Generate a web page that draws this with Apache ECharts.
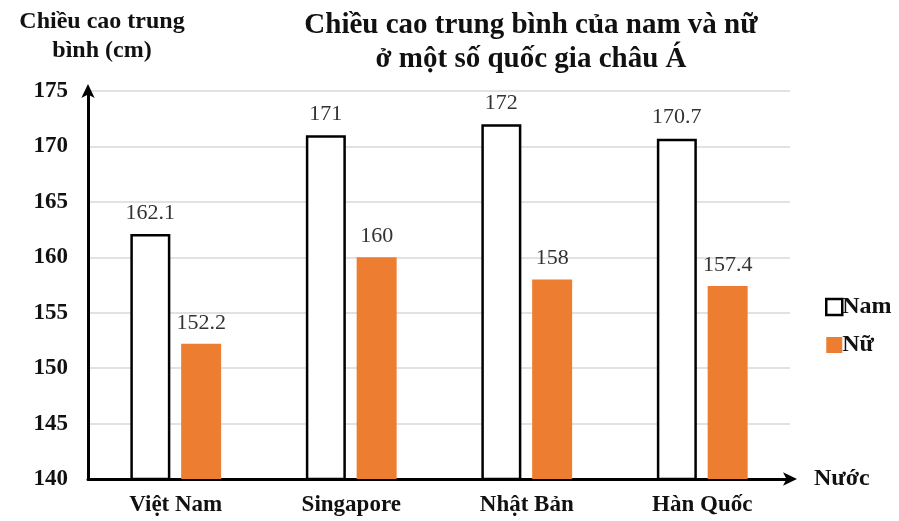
<!DOCTYPE html>
<html lang="vi">
<head>
<meta charset="UTF-8">
<title>Chiều cao trung bình</title>
<script src="https://cdn.jsdelivr.net/npm/echarts@6/dist/echarts.min.js"></script>
<style>
  html, body { margin: 0; padding: 0; background: #fff; }
  #main { width: 899px; height: 521px; }
</style>
</head>
<body>
<div id="main"></div>
<script>
  var countries = ['Việt Nam', 'Singapore', 'Nhật Bản', 'Hàn Quốc'];
  var namData = [162.1, 171, 172, 170.7];
  var nuData = [152.2, 160, 158, 157.4];
  var yTicks = [140, 145, 150, 155, 160, 165, 170, 175];

  var serif = '"Liberation Serif", "DejaVu Serif", serif';
  var myChart = echarts.init(document.getElementById('main'));

  var option = {
    backgroundColor: '#fff',
    animation: false,
    title: {
      text: 'Chiều cao trung bình của nam và nữ\nở một số quốc gia châu Á',
      left: 526,
      textAlign: 'center',
      top: 4,
      textStyle: {
        fontFamily: serif,
        fontWeight: 'bold',
        fontSize: 29,
        lineHeight: 34,
        color: '#111'
      }
    },
    legend: {
      orient: 'vertical',
      left: 820,
      top: 290,
      itemGap: 14,
      itemWidth: 16,
      itemHeight: 16,
      textStyle: { fontFamily: serif, fontWeight: 'bold', fontSize: 24, color: '#111', padding: [0, 0, 0, -5] },
      data: [
        { name: 'Nam', icon: 'rect', itemStyle: { color: '#fff', borderColor: '#000', borderWidth: 2.5 } },
        { name: 'Nữ', icon: 'rect', itemStyle: { color: '#ED7D31', borderWidth: 0 } }
      ]
    },
    grid: { left: 88, right: 109, top: 91, bottom: 42, containLabel: false, outerBoundsMode: 'none' },
    xAxis: {
      type: 'category',
      data: countries,
      name: 'Nước',
      nameGap: 24,
      nameTextStyle: { fontFamily: serif, fontWeight: 'bold', fontSize: 24, color: '#111' },
      axisLine: {
        lineStyle: { color: '#000', width: 3 },
        symbol: ['none', 'arrow'],
        symbolSize: [10, 14],
        symbolOffset: [0, 7]
      },
      axisTick: { show: false },
      axisLabel: { fontFamily: serif, fontWeight: 'bold', fontSize: 23, color: '#111', margin: 15 }
    },
    yAxis: {
      type: 'value',
      min: yTicks[0],
      max: yTicks[yTicks.length - 1],
      interval: 5,
      name: 'Chiều cao trung\nbình (cm)',
      nameLocation: 'end',
      nameGap: 26,
      nameTextStyle: { fontFamily: serif, fontWeight: 'bold', fontSize: 24, lineHeight: 29, color: '#111', align: 'center', padding: [0, 0, 0, 28] },
      axisLine: {
        show: true,
        lineStyle: { color: '#000', width: 3 },
        symbol: ['none', 'arrow'],
        symbolSize: [10, 14],
        symbolOffset: [0, 7]
      },
      axisTick: { show: false },
      axisLabel: { fontFamily: serif, fontWeight: 'bold', fontSize: 23, color: '#111', margin: 20 },
      splitLine: { lineStyle: { color: '#d9d9d9', width: 1.5 } }
    },
    series: [
      {
        name: 'Nam',
        type: 'bar',
        data: namData,
        barWidth: 40,
        barGap: '27%',
        itemStyle: { color: '#fff', borderColor: '#000', borderWidth: 2.5 },
        label: { show: true, position: 'top', distance: 10, fontFamily: serif, fontSize: 22, color: '#333' }
      },
      {
        name: 'Nữ',
        type: 'bar',
        data: nuData,
        barWidth: 40,
        itemStyle: { color: '#ED7D31' },
        label: { show: true, position: 'top', distance: 10, fontFamily: serif, fontSize: 22, color: '#333' }
      }
    ]
  };

  myChart.setOption(option);
</script>
</body>
</html>
